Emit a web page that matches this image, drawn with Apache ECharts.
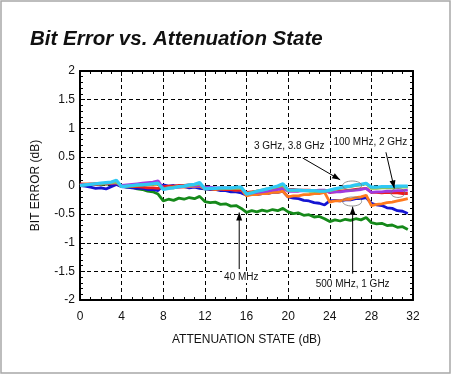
<!DOCTYPE html>
<html>
<head>
<meta charset="utf-8">
<script src="https://cdn.jsdelivr.net/npm/echarts@6/dist/echarts.min.js"></script>
<style>
  html, body { margin: 0; padding: 0; background: #fff; }
  #main { width: 451px; height: 375px; }
</style>
</head>
<body>
<div id="main"></div>
<script>
// attenuation states, 0.5 dB steps
var states = [0, 0.5, 1, 1.5, 2, 2.5, 3, 3.5, 4, 4.5, 5, 5.5, 6, 6.5, 7, 7.5,
    8, 8.5, 9, 9.5, 10, 10.5, 11, 11.5, 12, 12.5, 13, 13.5, 14, 14.5, 15, 15.5,
    16, 16.5, 17, 17.5, 18, 18.5, 19, 19.5, 20, 20.5, 21, 21.5, 22, 22.5, 23, 23.5,
    24, 24.5, 25, 25.5, 26, 26.5, 27, 27.5, 28, 28.5, 29, 29.5, 30, 30.5, 31, 31.5];

var err40M = [0.00, 0.02, 0.01, 0.03, 0.01, 0.03, 0.02, 0.04,
    -0.01, -0.03, -0.03, -0.06, -0.07, -0.10, -0.11, -0.15,
    -0.27, -0.24, -0.26, -0.22, -0.24, -0.21, -0.23, -0.19,
    -0.28, -0.30, -0.29, -0.33, -0.32, -0.36, -0.35, -0.40,
    -0.47, -0.44, -0.46, -0.43, -0.45, -0.42, -0.44, -0.40,
    -0.46, -0.49, -0.48, -0.52, -0.51, -0.55, -0.54, -0.58,
    -0.63, -0.60, -0.62, -0.59, -0.61, -0.58, -0.60, -0.56,
    -0.65, -0.67, -0.66, -0.70, -0.69, -0.73, -0.72, -0.77];

var err500M = [0.00, -0.01, -0.03, -0.05, -0.04, -0.06, -0.02, 0.02,
    -0.02, -0.03, -0.04, -0.05, -0.05, -0.07, -0.07, -0.09,
    0.01, -0.01, 0.00, -0.02, -0.02, -0.04, -0.03, -0.05,
    -0.06, -0.07, -0.07, -0.09, -0.09, -0.11, -0.11, -0.13,
    -0.17, -0.15, -0.16, -0.14, -0.14, -0.12, -0.12, -0.10,
    -0.20, -0.22, -0.23, -0.26, -0.27, -0.30, -0.31, -0.34,
    -0.27, -0.26, -0.27, -0.25, -0.25, -0.23, -0.23, -0.21,
    -0.31, -0.34, -0.35, -0.39, -0.40, -0.44, -0.45, -0.49];

var err1G = [0.02, 0.03, 0.02, 0.03, 0.03, 0.04, 0.04, 0.05,
    -0.01, -0.01, 0.00, 0.00, 0.01, 0.01, 0.02, 0.02,
    -0.05, -0.04, -0.04, -0.03, -0.03, -0.02, -0.02, -0.01,
    -0.06, -0.06, -0.07, -0.06, -0.07, -0.07, -0.08, -0.07,
    -0.18, -0.16, -0.16, -0.14, -0.14, -0.12, -0.12, -0.10,
    -0.20, -0.18, -0.18, -0.16, -0.16, -0.14, -0.14, -0.12,
    -0.29, -0.27, -0.27, -0.24, -0.24, -0.21, -0.20, -0.17,
    -0.35, -0.33, -0.32, -0.30, -0.29, -0.27, -0.25, -0.23];

var err2G = [0.03, 0.02, 0.03, 0.02, 0.03, 0.03, 0.04, 0.05,
    0.00, -0.01, -0.02, -0.02, -0.03, -0.04, -0.04, -0.05,
    -0.02, -0.01, -0.01, 0.00, 0.00, 0.01, 0.01, 0.02,
    -0.05, -0.05, -0.06, -0.06, -0.07, -0.07, -0.08, -0.08,
    -0.12, -0.11, -0.10, -0.09, -0.08, -0.07, -0.06, -0.05,
    -0.07, -0.07, -0.08, -0.08, -0.08, -0.09, -0.09, -0.09,
    -0.12, -0.11, -0.10, -0.09, -0.08, -0.07, -0.06, -0.05,
    -0.12, -0.12, -0.13, -0.12, -0.13, -0.13, -0.14, -0.14];

var err100M = [0.01, 0.02, 0.02, 0.03, 0.03, 0.04, 0.04, 0.05,
    0.00, 0.01, 0.02, 0.03, 0.04, 0.05, 0.06, 0.08,
    -0.05, -0.04, -0.03, -0.03, -0.02, -0.01, -0.01, 0.00,
    -0.03, -0.03, -0.04, -0.04, -0.04, -0.05, -0.05, -0.05,
    -0.14, -0.13, -0.12, -0.11, -0.10, -0.08, -0.07, -0.05,
    -0.10, -0.10, -0.10, -0.09, -0.09, -0.09, -0.08, -0.08,
    -0.12, -0.11, -0.11, -0.10, -0.09, -0.08, -0.07, -0.05,
    -0.12, -0.11, -0.11, -0.10, -0.10, -0.09, -0.09, -0.08];

var err3G = [0.00, 0.01, 0.02, 0.03, 0.03, 0.04, 0.05, 0.06,
    -0.02, -0.01, -0.01, 0.00, 0.01, 0.01, 0.02, 0.03,
    -0.06, -0.04, -0.03, -0.02, -0.01, 0.00, 0.01, 0.03,
    -0.05, -0.05, -0.05, -0.05, -0.05, -0.05, -0.05, -0.05,
    -0.14, -0.12, -0.10, -0.08, -0.06, -0.04, -0.02, 0.00,
    -0.09, -0.09, -0.09, -0.09, -0.10, -0.10, -0.10, -0.10,
    -0.09, -0.07, -0.05, -0.03, -0.02, 0.00, 0.01, 0.03,
    -0.05, -0.05, -0.04, -0.04, -0.04, -0.03, -0.03, -0.03];

var err3G8 = [0.00, 0.01, 0.02, 0.03, 0.04, 0.05, 0.06, 0.09,
    -0.02, -0.01, 0.00, 0.01, 0.01, 0.02, 0.03, 0.04,
    -0.07, -0.05, -0.04, -0.02, -0.01, 0.01, 0.02, 0.05,
    -0.06, -0.05, -0.05, -0.04, -0.04, -0.04, -0.03, -0.03,
    -0.15, -0.13, -0.10, -0.08, -0.06, -0.03, -0.01, 0.03,
    -0.08, -0.08, -0.08, -0.09, -0.09, -0.09, -0.10, -0.10,
    -0.08, -0.06, -0.04, -0.02, -0.01, 0.01, 0.02, 0.04,
    -0.03, -0.03, -0.02, -0.02, -0.02, -0.01, -0.01, -0.01];

var seriesNames = ['40 MHz', '500 MHz', '1 GHz', '2 GHz', '100 MHz', '3 GHz', '3.8 GHz'];
var seriesValues = [err40M, err500M, err1G, err2G, err100M, err3G, err3G8];
var seriesColors = ['#15891a', '#1414d2', '#ff7a1e', '#ee1c1c', '#a03ae0', '#9cc23a', '#2fc8f4'];

var xTicks = [0, 4, 8, 12, 16, 20, 24, 28, 32];
var yTicks = [-2, -1.5, -1, -0.5, 0, 0.5, 1, 1.5, 2];

// callouts in data units: text position, arrow from/to
var calloutTexts = ['3 GHz, 3.8 GHz', '100 MHz, 2 GHz', '40 MHz', '500 MHz, 1 GHz'];
var calloutTextPos = [[20.1, 0.69], [27.9, 0.75], [15.5, -1.6], [26.2, -1.72]];
var arrowFrom = [[21.4, 0.48], [29.4, 0.58], [15.3, -1.46], [26.2, -1.54]];
var arrowTo = [[25.0, 0.1], [30.2, -0.05], [15.3, -0.47], [26.2, -0.37]];
var ellipseCenters = [[26.15, 0.0], [30.55, -0.13], [26.15, -0.28]];

var chart = echarts.init(document.getElementById('main'));

function buildSeries() {
    return seriesValues.map(function (vals, i) {
        return {
            name: seriesNames[i],
            type: 'line',
            xAxisIndex: 0,
            yAxisIndex: 0,
            showSymbol: false,
            silent: true,
            z: 3 + i,
            lineStyle: { color: seriesColors[i], width: i === 6 ? 3.2 : 2.8 },
            itemStyle: { color: seriesColors[i] },
            data: vals.map(function (v, k) { return [states[k], v]; })
        };
    });
}

var tickFont = { color: '#111', fontSize: 12, fontFamily: 'Liberation Sans, Arial, sans-serif' };

function frameAxis(extra) {
    var ax = {
        type: 'value',
        axisLine: { onZero: false, lineStyle: { color: '#000', width: 2 } },
        axisTick: { inside: true, length: 5, lineStyle: { color: '#000' } },
        minorTick: { show: true, length: 3, lineStyle: { color: '#000' } },
        axisLabel: { show: false },
        splitLine: { show: false }
    };
    for (var k in extra) ax[k] = extra[k];
    return ax;
}

var option = {
    animation: false,
    backgroundColor: '#fff',
    title: {
        text: 'Bit Error vs. Attenuation State',
        left: 25,
        top: 24,
        textStyle: {
            fontFamily: 'Liberation Sans, Arial, sans-serif',
            fontStyle: 'italic',
            fontWeight: 'bold',
            fontSize: 20.5,
            color: '#111'
        }
    },
    grid: { left: 80, right: 38, top: 71, bottom: 75 },
    xAxis: [
        frameAxis({
            min: 0, max: 32, interval: 4,
            name: 'ATTENUATION STATE (dB)',
            nameLocation: 'middle',
            nameGap: 34,
            nameTextStyle: tickFont,
            minorTick: { show: true, splitNumber: 4, length: 3, lineStyle: { color: '#000' } },
            axisLabel: {
                margin: 11,
                color: tickFont.color, fontSize: 12, fontFamily: tickFont.fontFamily,
                formatter: function (v) { return xTicks.indexOf(v) >= 0 ? String(v) : ''; }
            },
            splitLine: { show: true, lineStyle: { color: '#000', type: [4, 3], width: 1 } }
        }),
        frameAxis({
            position: 'top',
            min: 0, max: 32, interval: 4,
            minorTick: { show: true, splitNumber: 4, length: 3, lineStyle: { color: '#000' } }
        })
    ],
    yAxis: [
        frameAxis({
            min: -2, max: 2, interval: 0.5,
            name: 'BIT ERROR (dB)',
            nameLocation: 'middle',
            nameGap: 38,
            nameTextStyle: tickFont,
            minorTick: { show: true, splitNumber: 5, length: 3, lineStyle: { color: '#000' } },
            axisLabel: {
                margin: 5,
                color: tickFont.color, fontSize: 12, fontFamily: tickFont.fontFamily,
                formatter: function (v) { return yTicks.indexOf(v) >= 0 ? String(v) : ''; }
            },
            splitLine: { show: true, lineStyle: { color: '#000', type: [4, 3], width: 1 } }
        }),
        frameAxis({
            position: 'right',
            min: -2, max: 2, interval: 0.5,
            minorTick: { show: true, splitNumber: 5, length: 3, lineStyle: { color: '#000' } }
        })
    ],
    series: buildSeries()
};

chart.setOption(option);

function toPx(pt) {
    return chart.convertToPixel({ xAxisIndex: 0, yAxisIndex: 0 }, pt);
}

function arrowHead(from, to) {
    var a = toPx(from), b = toPx(to);
    var dx = b[0] - a[0], dy = b[1] - a[1];
    var len = Math.sqrt(dx * dx + dy * dy);
    var ux = dx / len, uy = dy / len;
    var hl = 8, hw = 3;
    var bx = b[0] - ux * hl, by = b[1] - uy * hl;
    return [[b[0], b[1]], [bx - uy * hw, by + ux * hw], [bx + uy * hw, by - ux * hw]];
}

var elements = [{
    type: 'rect',
    shape: { x: 1, y: 1, width: 449, height: 372 },
    style: { fill: null, stroke: '#a8a8a8', lineWidth: 1.5 },
    silent: true
}];

ellipseCenters.forEach(function (c, i) {
    var p = toPx(c);
    elements.push({
        type: 'ellipse',
        shape: { cx: p[0], cy: p[1], rx: i === 1 ? 7 : 9.5, ry: 4.5 },
        style: { fill: null, stroke: '#777', lineWidth: 0.8 },
        z: 20
    });
});

calloutTexts.forEach(function (t, i) {
    var a = toPx(arrowFrom[i]), b = toPx(arrowTo[i]);
    elements.push({
        type: 'line',
        shape: { x1: a[0], y1: a[1], x2: b[0], y2: b[1] },
        style: { stroke: '#000', lineWidth: 1 },
        z: 20
    });
    elements.push({
        type: 'polygon',
        shape: { points: arrowHead(arrowFrom[i], arrowTo[i]) },
        style: { fill: '#000' },
        z: 20
    });
    var p = toPx(calloutTextPos[i]);
    elements.push({
        type: 'text',
        x: p[0], y: p[1],
        style: {
            text: t,
            fill: '#111',
            font: '10px "Liberation Sans", Arial, sans-serif',
            align: 'center',
            verticalAlign: 'middle',
            backgroundColor: '#fff',
            padding: [1, 2]
        },
        z: 21
    });
});

chart.setOption({ graphic: { elements: elements } });
</script>
</body>
</html>
